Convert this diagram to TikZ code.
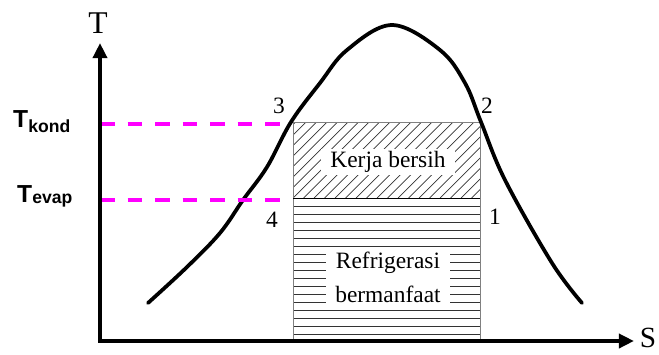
\documentclass[tikz,border=0pt]{standalone}
\usepackage{fontspec}
\setmainfont{Liberation Serif}
\setsansfont{Liberation Sans}
\usetikzlibrary{arrows.meta, calc}
\definecolor{cMagenta}{HTML}{FF00FF}
\definecolor{cHatch}{HTML}{333333}
\definecolor{cFrame}{HTML}{808080}

\begin{document}
\begin{tikzpicture}[
    x=0.03cm, y=-0.03cm,
    axis/.style={line width=3.4pt, line join=miter,
                 {Triangle[length=13pt, width=12pt]}-{Triangle[length=13pt, width=12pt]}},
    curve/.style={line width=3.2pt, line cap=round},
    level/.style={draw=cMagenta, line width=3.4pt, dash pattern=on 12.5pt off 11pt},
    hatch/.style={cHatch, line width=0.6pt},
    lbl/.style={font=\fontsize{20}{20}\selectfont, inner sep=0pt},
    axlbl/.style={font=\fontsize{27}{27}\selectfont, inner sep=0pt, anchor=base},
    area/.style={fill=white, inner xsep=8pt, inner ysep=2pt, align=center,
                 font=\fontsize{20}{29}\selectfont},
    tlbl/.style={font=\sffamily\bfseries\fontsize{21}{21}\selectfont,
                 anchor=base west, inner sep=0pt},
  ]
  \useasboundingbox (0,0) rectangle (659,354);

  % ── HATCHED AREAS ──
  \begin{scope}
    \clip (293,122) rectangle (480,198);
    \foreach \i in {-8,...,18}
      \draw[hatch] ({293+\i*10.5},198) -- ++(80,-80);
  \end{scope}
  \foreach \y in {206,214,...,334}
    \draw[hatch] (293,\y) -- (480,\y);
  \draw[cFrame, line width=0.8pt] (293,341) rectangle (480,122);
  \draw[black, line width=0.8pt] (293,198) -- (480,198);

  \node[area] (work) at (388,162) {Kerja bersih};
  \node[area] (refr) at (388,277) {Refrigerasi\\bermanfaat};

  % ── SATURATION DOME ──
  \draw[curve] plot[smooth, tension=0.6] coordinates {
    (148,303) (187,267) (220,233) (243,200) (267,167) (291,122)
    (320,83) (347,50) (392,25) (440,50) (465,83) (481,122)
    (505,180) (552,263) (582,303)};

  % ── TEMPERATURE LEVELS ──
  \coordinate (kondL) at (100,124);
  \coordinate (kondR) at (285,124);
  \coordinate (evapL) at (100,200);
  \coordinate (evapR) at (285,200);
  \draw[level] (kondL) -- (kondR);
  \draw[level] (evapL) -- (evapR);
  \node[tlbl] (tkond) at (13,127)
    {T{\fontsize{15}{15}\selectfont\raisebox{-5pt}{kond}}};
  \node[tlbl] (tevap) at (17,202)
    {T{\fontsize{15}{15}\selectfont\raisebox{-1pt}{evap}}};

  % ── AXES ──
  \coordinate (orig) at (100,341);
  \coordinate (ttop) at (100,43);
  \coordinate (send) at (634,341);
  \draw[axis] (ttop) -- (orig) -- (send);
  \node[axlbl] (tlabel) at (98,33) {T};
  \node[axlbl, font=\fontsize{25}{25}\selectfont] (slabel) at (648,347) {S};

  % ── STATE POINTS ──
  \node[lbl] (p1) at (495,217) {1};
  \node[lbl] (p2) at (487,106) {2};
  \node[lbl] (p3) at (279,106) {3};
  \node[lbl] (p4) at (272,220) {4};
\end{tikzpicture}
\end{document}
